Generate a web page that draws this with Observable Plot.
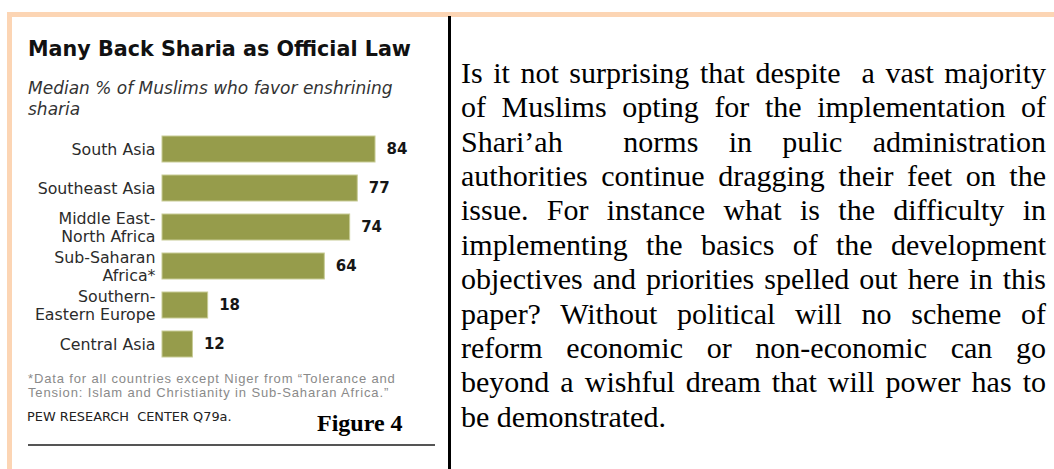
<!DOCTYPE html>
<html>
<head>
<meta charset="utf-8">
<script src="https://cdn.jsdelivr.net/npm/d3@7"></script>
<script src="https://cdn.jsdelivr.net/npm/@observablehq/plot@0.6"></script>
<style>
  html, body { margin: 0; padding: 0; background: #fff; }
  #page { position: relative; width: 1054px; height: 469px; overflow: hidden; background: #fff; }
  .abs { position: absolute; white-space: nowrap; }
  #peachTop { position: absolute; left: 7px; top: 12px; width: 1047px; height: 4.5px; background: #fcd5b4; }
  #peachLeft { position: absolute; left: 7px; top: 12px; width: 5px; height: 457px; background: #fcd5b4; }
  #vline { position: absolute; left: 448px; top: 16px; width: 2.5px; height: 453px; background: #000; }
  #hline { position: absolute; left: 28px; top: 444px; width: 407px; height: 1.5px; background: #555; }
  #title { left: 28px; top: 38.5px; font: bold 20.7px/20.7px "DejaVu Sans", sans-serif; color: #111; }
  #subtitle { left: 28px; top: 77.5px; font: italic 17px/21px "DejaVu Sans", sans-serif; color: #333; }
  #chart { position: absolute; left: 0; top: 120px; }
  .foot { left: 28px; font: 13px/14px "Liberation Sans", Arial, sans-serif; letter-spacing: 0.85px; color: #8a8a8a; }
  #foot1 { top: 372px; }
  #foot2 { top: 386px; }
  #source { left: 27px; top: 411px; font: 12.9px/12.9px "DejaVu Sans", sans-serif; color: #222; }
  #fig { left: 317px; top: 410.5px; font: bold 24px/24px "Liberation Serif", serif; color: #000; }
  #body { position: absolute; left: 461px; top: 55.7px; width: 585px; font: 30px/34.4px "Liberation Serif", serif; color: #000; }
  #body div { white-space: pre-wrap; text-align: justify; text-align-last: justify; }
  #body div.last { text-align: left; text-align-last: left; }
</style>
</head>
<body>
<div id="page">
  <div id="peachTop"></div>
  <div id="peachLeft"></div>
  <div id="vline"></div>
  <div id="title" class="abs">Many Back Sharia as Official Law</div>
  <div id="subtitle" class="abs">Median % of Muslims who favor enshrining<br>sharia</div>
  <div id="chart"></div>
  <div id="foot1" class="abs foot">*Data for all countries except Niger from “Tolerance and</div>
  <div id="foot2" class="abs foot">Tension: Islam and Christianity in Sub-Saharan Africa.”</div>
  <div id="source" class="abs">PEW RESEARCH&nbsp; CENTER Q79a.</div>
  <div id="fig" class="abs">Figure 4</div>
  <div id="hline"></div>
  <div id="body"></div>
</div>
<script>
// ---- Data ----
const regions = [
  "South Asia",
  "Southeast Asia",
  "Middle East-\nNorth Africa",
  "Sub-Saharan\nAfrica*",
  "Southern-\nEastern Europe",
  "Central Asia"
];
const values = [84, 77, 74, 64, 18, 12];

const bodyLines = [
  "Is it not surprising that despite  a vast majority",
  "of Muslims opting for the implementation of",
  "Shari’ah  norms in pulic administration",
  "authorities continue dragging their feet on the",
  "issue. For instance what is the difficulty in",
  "implementing the basics of the development",
  "objectives and priorities spelled out here in this",
  "paper? Without political will no scheme of",
  "reform economic or non-economic can go",
  "beyond a wishful dream that will power has to",
  "be demonstrated."
];

const data = regions.map((r, i) => ({region: r, value: values[i]}));

const chart = Plot.plot({
  width: 440,
  height: 250,
  marginLeft: 162,
  marginRight: 24.4,
  marginTop: 15,
  marginBottom: 13,
  style: {fontFamily: "'DejaVu Sans', sans-serif", fontSize: "15.8px", background: "transparent", color: "#2b2b2b", overflow: "visible"},
  x: {domain: [0, 100], axis: null},
  y: {domain: regions, paddingInner: 0.337, paddingOuter: 0, axis: null},
  marks: [
    Plot.barX(data, {x: "value", y: "region", fill: "#969c4b", stroke: "#c8cc96", strokeWidth: 1}),
    Plot.text(data, {y: "region", text: "region", frameAnchor: "left", textAnchor: "end", dx: -7, lineHeight: 1.15, fontSize: 15.8, fill: "#2b2b2b"}),
    Plot.text(data, {x: "value", y: "region", text: d => String(d.value), textAnchor: "start", dx: 11, fontWeight: "bold", fontSize: 15, fill: "#161616"})
  ]
});
document.getElementById("chart").appendChild(chart);

const body = document.getElementById("body");
bodyLines.forEach((t, i) => {
  const d = document.createElement("div");
  d.textContent = t;
  if (i === bodyLines.length - 1) d.className = "last";
  body.appendChild(d);
});
</script>
</body>
</html>
